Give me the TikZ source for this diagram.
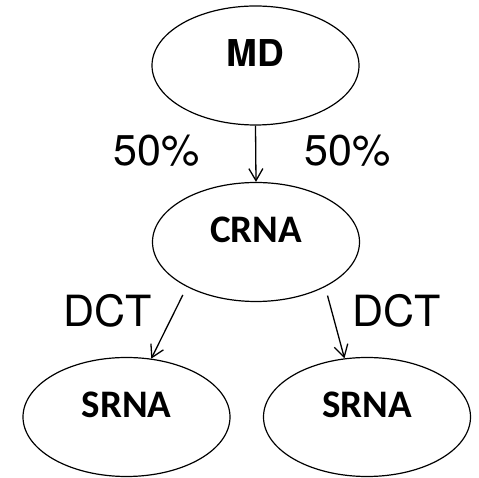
\documentclass[tikz,border=0pt]{standalone}
\usepackage{fontspec}
\newfontfamily\arialish{TeX Gyre Heros}
\newfontfamily\calibrish{Carlito}
\usetikzlibrary{positioning}
\usetikzlibrary{shapes.geometric}
\usetikzlibrary{arrows.meta}

\tikzset{
    blob/.style={draw, ellipse, line width=1.2pt, minimum width=207pt, minimum height=119pt,
        text height=25pt, text depth=23pt, font=\calibrish\bfseries\fontsize{39}{39}\selectfont},
    link/.style={line width=1.3pt, -{Straight Barb[length=12pt,width=14pt,line width=1.3pt]}},
    tag/.style={font=\arialish\fontsize{43}{43}\selectfont}
}

\begin{document}
\begin{tikzpicture}[x=1pt,y=1pt]
            % Fix the page size
            \useasboundingbox (0,0) rectangle (479,478);

            % Draw the three levels
            \node[blob, font=\arialish\bfseries\fontsize{37}{37}\selectfont] (md) at (255.5,412.5) {MD};
            \node[blob] (crna) at (256,236) {CRNA};
            \node[blob] (srnaleft) at (126.5,61) {SRNA};
            \node[blob] (srnaright) at (367,61) {SRNA};

            % Draw the arrows between them
            \draw[link] (md.south) -- (crna.north);
            \draw[link, shorten <=9pt] (crna.213) -- (srnaleft.67);
            \draw[link, shorten <=9pt] (crna.327.5) -- (srnaright.111.5);

            % Draw the labels
            \node[tag] at (157,327) {50\%};
            \node[tag] at (348,327) {50\%};
            \node[tag] at (107.5,167) {DCT};
            \node[tag] at (396.5,167) {DCT};

        \end{tikzpicture}
\end{document}
